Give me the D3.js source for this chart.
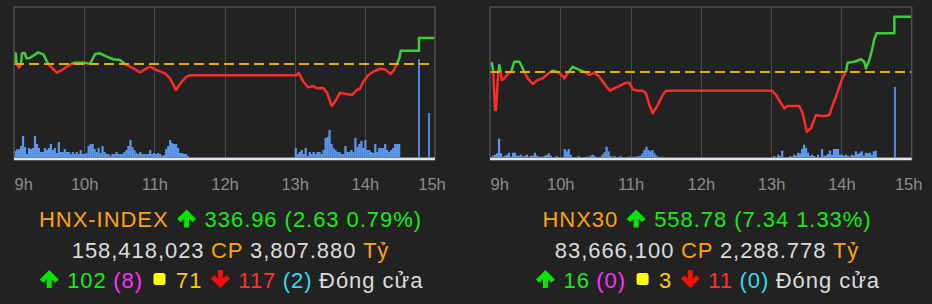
<!DOCTYPE html>
<html>
<head>
<meta charset="utf-8">
<script src="https://cdn.jsdelivr.net/npm/d3@7"></script>
<style>
html, body { margin: 0; padding: 0; background: #222; }
svg { display: block; }
</style>
</head>
<body>
<svg id="chart" width="932" height="304"></svg>
<script>
// minutes after 9:00 for the time axis
const tickMinutes = [0, 60, 120, 180, 240, 300, 360];
const tickLabels = ["9h", "10h", "11h", "12h", "13h", "14h", "15h"];

const indexNames = ["HNX-INDEX", "HNX30"];
const indexValues = [336.96, 558.78];
const indexChanges = [2.63, 7.34];
const indexPercents = [0.79, 1.33];
const shareVolumes = [158418023, 83666100];
const tradeValues = [3807.880, 2288.778];
const advancers = [102, 16];
const ceilings = [8, 0];
const unchanged = [71, 3];
const decliners = [117, 11];
const floors = [2, 0];

// HNX-INDEX intraday, [minute, price]
const hnxTimes = [0, 0.5, 1.5, 2.3, 4.5, 6, 6.8, 9.4, 10.5, 13.1, 20.8, 25.1, 29.3, 36.5, 40.8, 49.3, 52, 60, 65,
  69.3, 73.5, 79.3, 84.9, 90.6, 94.9, 102, 107.7, 112, 116.3, 122, 129.1, 133.4, 138.5, 143.4, 147.7, 150.5,
  241.5, 243.5, 247.4, 251.7, 255.9, 258.8, 264.5, 267.9, 271.7, 274.5, 278.8, 284.5, 288.8, 293, 295.9,
  298.7, 303, 307.3, 313, 317.2, 322.1, 324.9, 327.2, 329.5, 330.7, 346.3, 346.3, 360];
const hnxPrices = [334.33, 335.41, 335.41, 334.33, 333.96, 334.33, 335.41, 335.41, 334.91, 334.91, 335.51, 335.31,
  334.33, 333.45, 333.72, 334.33, 334.46, 334.46, 334.33, 335.34, 335.41, 335.07, 334.81, 334.73, 334.33,
  333.90, 333.49, 333.79, 334.06, 333.72, 333.39, 332.88, 331.70, 332.54, 333.05, 333.19,
  333.19, 333.45, 332.54, 331.97, 332.10, 331.87, 331.90, 331.37, 330.08, 330.52, 331.43, 331.30, 331.19,
  331.70, 331.83, 332.54, 333.22, 333.55, 333.85, 333.79, 333.32, 333.72, 334.30, 334.91, 335.68, 335.68,
  336.96, 336.96];

// HNX30 intraday
const hnx30Times = [0, 1.7, 2.8, 4.3, 5.1, 7.1, 8, 9.1, 10, 12.2, 15.1, 17.9, 20.8, 25, 27.3, 29.3, 32.2, 36.4,
  40.7, 45, 49.2, 53.5, 59.2, 63.5, 66.3, 70.6, 76.3, 80.5, 84.8, 89.1, 93.3, 99, 102.4, 106.1, 110.4, 114.7,
  119, 121.8, 126.1, 130.4, 133.2, 135.5, 138.9, 143.2, 147.4, 150.3,
  240.7, 244.2, 248.4, 251.3, 254.1, 258.4, 264.1, 266.9, 270.4, 274, 278.3, 282.6, 286.8, 289.7, 292.5,
  295.4, 298.2, 301.1, 303.9, 305.3, 311, 316.7, 319.5, 321, 323.8, 326.1, 328.1, 330.1, 345.2, 345.2, 360];
const hnx30Prices = [552.59, 552.59, 551.44, 546.40, 546.40, 551.44, 552.37, 551.44, 550.38, 550.60, 551.17,
  551.44, 552.81, 552.81, 552.14, 551.44, 550.60, 549.85, 550.38, 550.60, 551.17, 551.61, 551.35, 550.60,
  551.27, 552.14, 551.71, 551.44, 551.04, 551.35, 550.82, 549.58, 548.96, 549.28, 549.58, 549.94, 550.02,
  549.14, 548.96, 548.96, 548.61, 547.29, 545.96, 547.06, 548.39, 548.96,
  548.96, 548.39, 547.29, 546.62, 546.93, 546.93, 546.93, 545.96, 543.52, 543.97, 545.73, 545.60, 545.60,
  545.73, 547.06, 548.16, 549.49, 550.74, 551.44, 552.67, 552.81, 553.13, 552.81, 551.93, 553.03, 554.36,
  555.78, 556.58, 556.58, 558.78, 558.78];

// volume bars (relative units), one bar per interval from session open
const volStep = 1.7;
const hnxVolAm = [7, 8.7, 8.7, 12, 22, 11, 4, 10, 9, 10, 22, 14, 10, 6, 6, 10, 8, 10, 14, 8,
  10, 5, 16, 6, 6, 9, 6, 6, 4, 6, 4, 6, 4, 8, 4, 4, 5, 12, 14, 14, 9, 6, 10, 5, 12, 6, 4, 4, 2, 4,
  4, 6, 4, 4, 4, 6, 8, 12, 18, 11, 8, 5, 4, 6, 4, 4, 4, 4, 8, 4, 5, 4, 5, 4, 2, 3, 9, 12, 18, 15,
  14, 14, 10, 5, 5, 4, 4, 2];
const hnxVolPm = [10, 4, 6, 8, 4, 10, 2, 6, 4, 6, 4, 6, 6, 4, 8, 20, 21, 28, 14, 10,
  8, 6, 6, 4, 4, 12, 6, 6, 8, 6, 20, 11, 14, 17, 10, 18, 8, 8, 6, 5,
  14, 6, 10, 10, 10, 14, 8, 6, 8, 10, 14, 14, 14];
const hnxVolAtc = [[346.3, 99], [354.9, 45]];

const hnx30VolAm = [1.3, 2.3, 3.3, 4.7, 19.3, 4.7, 1.3, 2.3, 3.3, 5.3, 1.3, 5.3, 5.3, 2.3, 2.3, 3.3, 1.3, 2.3, 3.3, 1.3,
  2.3, 2.3, 5.3, 2.3, 1.3, 1.3, 1.3, 2.3, 3.3, 4.7, 2.3, 0.7, 0.7, 2, 0.7, 0.7, 0.7, 9, 6.7, 9,
  3.3, 0.7, 0.7, 0.7, 2, 0.7, 0.7, 0.7, 1.3, 1.3, 2.3, 3.3, 2, 0.7, 0.7, 1.3, 3.3, 5.7, 11.3, 6.7,
  2, 0.7, 2, 0.7, 0.7, 2, 0.7, 0.7, 0.7, 1.3, 1.3, 1.3, 1.3, 1.3, 2, 2.3, 4.7, 8, 11.3, 8,
  6.7, 8, 4.7, 2.3, 1.3, 0.7, 1.3, 0.7];
const hnx30VolPm = [0.7, 2, 0.7, 3.3, 2, 7.3, 0.7, 0.7, 0.7, 2, 1.3, 3.3, 2.3, 5.3, 4.7, 9, 13.3, 10, 5.3, 2,
  3.3, 2, 0.7, 3.3, 0.7, 9, 2.3, 2.3, 4, 7.3, 3.3, 9, 9, 9, 3.3, 3.3, 2.3, 3.3, 2.3, 1.3,
  3.3, 2.3, 6.7, 4, 5.3, 6.7, 2.3, 5.3, 4.7, 5.3, 3.3, 6.7, 7.3];
const hnx30VolAtc = [[345.7, 71]];

const plotTop = 7, plotBottom = 158;
const fontFamily = "'Liberation Sans', Arial, Helvetica, sans-serif";
const C = {
  orange: "#ffa500", green: "#12ee12", arrowGreen: "#00e600", grey: "#dcdcdc",
  magenta: "#ff30ff", gold: "#ffcc00", yellow: "#ffff00", red: "#ff3333", arrowRed: "#ff0a0a", cyan: "#33dced"
};

const svg = d3.select("#chart");
svg.append("rect").attr("width", 932).attr("height", 304).attr("fill", "#222");

function drawPanel(id, left, right, priceDomain, times, prices, volAm, volPm, volAtc, refValue) {
  const g = svg.append("g");
  const x = d3.scaleLinear().domain([0, 360]).range([left, right]);
  const y = d3.scaleLinear().domain(priceDomain).range([plotBottom, plotTop]);
  const yVol = d3.scaleLinear().domain([0, 100]).range([plotBottom, plotBottom - 100]);
  const yRef = y(refValue);

  g.selectAll(".grid").data(tickMinutes.slice(1, -1)).join("line")
    .attr("x1", d => Math.round(x(d)) + 0.5).attr("x2", d => Math.round(x(d)) + 0.5)
    .attr("y1", plotTop).attr("y2", plotBottom)
    .attr("stroke", "#4b4b4b").attr("stroke-width", 1);

  const bars = volAm.map((v, i) => [i * volStep, v])
    .concat(volPm.map((v, i) => [240 + i * volStep, v]));
  g.selectAll(".vol").data(bars).join("rect")
    .attr("x", d => x(d[0])).attr("width", 2.2)
    .attr("y", d => yVol(d[1])).attr("height", d => plotBottom - yVol(d[1]))
    .attr("fill", "#5a97ee");
  g.selectAll(".atc").data(volAtc).join("rect")
    .attr("x", d => x(d[0]) - 1).attr("width", 2)
    .attr("y", d => yVol(d[1])).attr("height", d => plotBottom - yVol(d[1]))
    .attr("fill", "#5487da");

  const defs = svg.append("defs");
  defs.append("clipPath").attr("id", id + "-up").append("rect")
    .attr("x", left).attr("y", 0).attr("width", right - left + 2).attr("height", yRef);
  defs.append("clipPath").attr("id", id + "-dn").append("rect")
    .attr("x", left).attr("y", yRef).attr("width", right - left + 2).attr("height", plotBottom - yRef);

  const pts = times.map((t, i) => [t, prices[i]]);
  const line = d3.line().x(d => x(d[0])).y(d => y(d[1]));
  g.append("path").datum(pts).attr("d", line).attr("fill", "none")
    .attr("stroke", "#3ccc3c").attr("stroke-width", 2.5).attr("stroke-linejoin", "round")
    .attr("clip-path", `url(#${id}-up)`);
  g.append("path").datum(pts).attr("d", line).attr("fill", "none")
    .attr("stroke", "#ff2b2b").attr("stroke-width", 2.5).attr("stroke-linejoin", "round")
    .attr("clip-path", `url(#${id}-dn)`);

  g.append("line").attr("x1", left).attr("x2", right).attr("y1", yRef).attr("y2", yRef)
    .attr("stroke", "#e3b000").attr("stroke-width", 2).attr("stroke-dasharray", "10,5");

  g.append("rect").attr("x", left).attr("y", plotTop).attr("width", right - left).attr("height", plotBottom - plotTop)
    .attr("fill", "none").attr("stroke", "#4f4f4f").attr("stroke-width", 1.5);
  g.append("line").attr("x1", left).attr("x2", right).attr("y1", plotBottom + 1).attr("y2", plotBottom + 1)
    .attr("stroke", "#dfe5ef").attr("stroke-width", 2.5);

  const axis = d3.axisBottom(x).tickValues(tickMinutes).tickFormat((d, i) => tickLabels[i])
    .tickSize(0).tickPadding(0);
  const ag = g.append("g").attr("transform", "translate(0,190)").call(axis);
  ag.select(".domain").remove();
  ag.attr("font-family", fontFamily).attr("font-size", 16.5);
  ag.selectAll("text").attr("y", 0).attr("dy", 0).attr("fill", "#8c8c8c");
  ag.selectAll("text").filter((d, i) => i === 0).attr("text-anchor", "start");
  ag.selectAll("text").filter((d, i) => i === tickMinutes.length - 1).attr("dx", -3.5);
}

function drawIcon(row, kind, x0) {
  if (kind === "up") {
    row.append("path").attr("transform", `translate(${x0 + 2},0)`)
      .attr("d", "M9.5,-17.5 L19,-8 L15.5,-4.8 L12,-8.3 L12,0.5 L7,0.5 L7,-8.3 L3.5,-4.8 L0,-8 Z")
      .attr("fill", C.arrowGreen);
    return 23;
  }
  if (kind === "down") {
    row.append("path").attr("transform", `translate(${x0 + 2},0)`)
      .attr("d", "M9.5,0.5 L19,-9 L15.5,-12.2 L12,-8.7 L12,-17.5 L7,-17.5 L7,-8.7 L3.5,-12.2 L0,-9 Z")
      .attr("fill", C.arrowRed);
    return 23;
  }
  row.append("rect").attr("x", x0 + 4).attr("y", -14.5).attr("width", 12).attr("height", 12)
    .attr("rx", 2.5).attr("fill", C.yellow);
  return 20;
}

function drawSummary(cx, lines) {
  const baselines = [227, 257.5, 287.5];
  lines.forEach((items, li) => {
    const row = svg.append("g").attr("font-family", fontFamily).attr("font-size", 22)
      .style("letter-spacing", "0.95px");
    let xPos = 0;
    items.forEach((it, k) => {
      if (k > 0) xPos += 6.5;
      if (it.icon) {
        xPos += drawIcon(row, it.icon, xPos);
      } else {
        const t = row.append("text").attr("x", xPos).attr("y", 0).attr("fill", it.color).text(it.text);
        xPos += t.node().getComputedTextLength();
      }
    });
    row.attr("transform", `translate(${cx - xPos / 2},${baselines[li]})`);
  });
}

const fmtInt = d3.format(",");
const fmtVal = d3.format(",.3f");
const fmt2 = d3.format(".2f");

function summaryLines(i) {
  return [
    [{ text: indexNames[i], color: C.orange }, { icon: "up" },
     { text: `${fmt2(indexValues[i])} (${fmt2(indexChanges[i])} ${fmt2(indexPercents[i])}%)`, color: C.green }],
    [{ text: fmtInt(shareVolumes[i]), color: C.grey }, { text: "CP", color: C.orange },
     { text: fmtVal(tradeValues[i]), color: C.grey }, { text: "Tỷ", color: C.orange }],
    [{ icon: "up" }, { text: String(advancers[i]), color: C.green }, { text: `(${ceilings[i]})`, color: C.magenta },
     { icon: "square" }, { text: String(unchanged[i]), color: C.gold }, { icon: "down" },
     { text: String(decliners[i]), color: C.red }, { text: `(${floors[i]})`, color: C.cyan },
     { text: "Đóng cửa", color: C.grey }]
  ];
}

drawPanel("hnx", 14, 435, [324.82, 340.10], hnxTimes, hnxPrices, hnxVolAm, hnxVolPm, hnxVolAtc,
  indexValues[0] - indexChanges[0]);
drawPanel("hnx30", 490, 911.7, [540.03, 560.07], hnx30Times, hnx30Prices, hnx30VolAm, hnx30VolPm, hnx30VolAtc,
  indexValues[1] - indexChanges[1]);

drawSummary(230.5, summaryLines(0));
drawSummary(707, summaryLines(1));
</script>
</body>
</html>
